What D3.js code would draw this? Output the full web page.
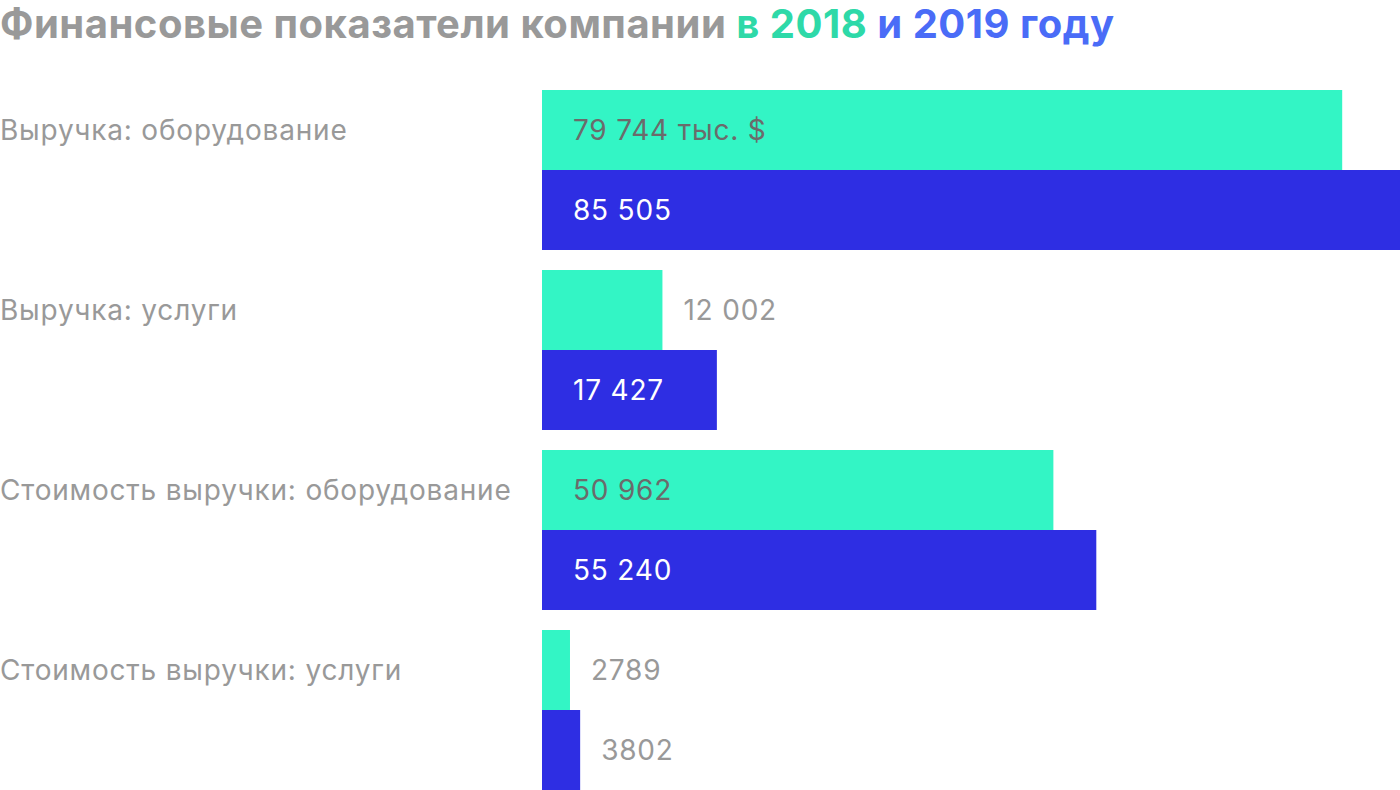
<!DOCTYPE html>
<html><head><meta charset="utf-8">
<script src="https://cdn.jsdelivr.net/npm/d3@7"></script>
<style>body{margin:0;background:#fff;font-family:Inter,Roboto,"Noto Sans",sans-serif;}</style>
</head><body>
<svg id="c" width="1400" height="790"></svg>
<script>
const categories = ["Выручка: оборудование","Выручка: услуги","Стоимость выручки: оборудование","Стоимость выручки: услуги"];
const values2018 = [79744, 12002, 50962, 2789];
const values2019 = [85505, 17427, 55240, 3802];
const labels2018 = ["79 744 тыс. $","12 002","50 962","2789"];
const labels2019 = ["85 505","17 427","55 240","3802"];
const years = ["2018","2019"];

const svg = d3.select("#c");
const colors = {"2018":"#33f5c5","2019":"#2e2ee3"};

const title = svg.append("text").attr("x",0).attr("y",38)
  .attr("font-size",40).attr("font-weight",700).attr("letter-spacing",0.5).attr("fill","#999");
title.append("tspan").text("Финансовые показатели компании ");
title.append("tspan").attr("fill","#2ed9a8").text("в 2018");
title.append("tspan").attr("fill","#4a6cf7").text(" и 2019 году");

const x = d3.scaleLinear().domain([0, 85505]).range([542, 1400]);
const y0 = d3.scaleBand().domain(categories).range([90, 810]).paddingInner(0).paddingOuter(0);
const y1 = d3.scaleBand().domain(years).range([0, 160]);

const data = categories.map((c,i)=>({c, v:[
  {year:"2018", v:values2018[i], l:labels2018[i]},
  {year:"2019", v:values2019[i], l:labels2019[i]}]}));

const g = svg.selectAll("g.cat").data(data).enter().append("g")
  .attr("transform", d=>`translate(0,${y0(d.c)})`);

g.append("text").attr("x",0).attr("y", y1.bandwidth()/2)
  .attr("dy","0.35em").attr("font-size",28).attr("letter-spacing",0.8).attr("fill","#999").text(d=>d.c);

const inside = d => (x(d.v)-x(0)) > 150;
const b = g.selectAll("g.bar").data(d=>d.v).enter().append("g");
b.append("rect").attr("x",x(0)).attr("y",d=>y1(d.year))
  .attr("width",d=>x(d.v)-x(0)).attr("height",y1.bandwidth())
  .attr("fill",d=>colors[d.year]);
b.append("text")
  .attr("x",d=> inside(d) ? x(0)+31 : x(d.v)+21)
  .attr("y",d=>y1(d.year)+y1.bandwidth()/2).attr("dy","0.35em")
  .attr("font-size",28).attr("letter-spacing",0.8)
  .attr("fill",d=> inside(d) ? (d.year==="2018"?"#6b6b6b":"#fff") : "#999")
  .text(d=>d.l);
</script>
</body></html>
